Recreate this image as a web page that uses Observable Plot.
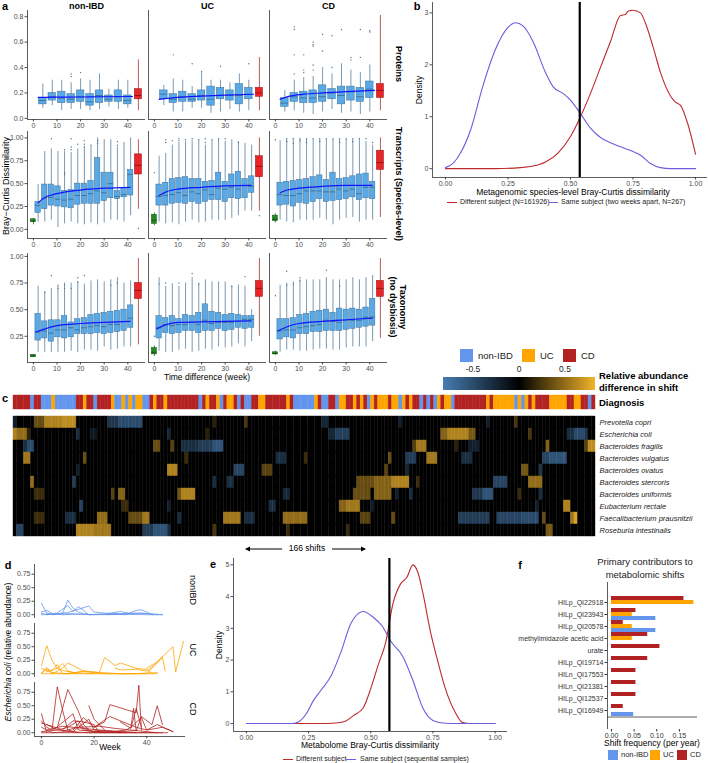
<!DOCTYPE html>
<html><head><meta charset="utf-8">
<script src="https://cdn.jsdelivr.net/npm/d3@7"></script>
<script src="https://cdn.jsdelivr.net/npm/@observablehq/plot@0.6"></script>
<style>
body{margin:0;background:#fff;font-family:"Liberation Sans",Arial,sans-serif;}
#root{position:relative;width:708px;height:763px;overflow:hidden;background:#fff;}
.t{position:absolute;white-space:nowrap;line-height:1.15;}
</style></head><body><div id="root"></div>
<script>
// ===================== DATA =====================
const DX = ["non-IBD", "UC", "CD"];
// ---- panel a: weeks of the boxes
const weeksA1 = [4, 8, 12, 16, 20, 24, 28, 32, 36, 40];
const weeksA23 = [2, 4.8, 7.6, 10.4, 13.2, 16, 18.8, 21.6, 24.4, 27.2, 30, 32.8, 35.6, 38.4, 41.2];
const weekSame = 0, weekDiff = 44.5;
// box stats: [lo, q1, median, q3, hi]
const protNonIBD = [[0.08,0.11,0.14,0.16,0.27],[0.1,0.14,0.17,0.2,0.3],[0.06,0.12,0.16,0.21,0.3],[0.07,0.12,0.15,0.19,0.28],[0.07,0.13,0.17,0.22,0.31],[0.06,0.1,0.13,0.19,0.3],[0.07,0.12,0.18,0.22,0.35],[0.09,0.13,0.15,0.18,0.23],[0.07,0.13,0.17,0.22,0.3],[0.08,0.11,0.14,0.18,0.3]];
const protUC = [[0.1,0.15,0.19,0.22,0.26],[0.05,0.12,0.15,0.19,0.31],[0.05,0.13,0.17,0.21,0.3],[0.08,0.13,0.15,0.19,0.25],[0.08,0.14,0.18,0.22,0.36],[0.04,0.1,0.15,0.25,0.3],[0.05,0.15,0.18,0.24,0.3],[0.07,0.14,0.18,0.22,0.28],[0.05,0.11,0.18,0.27,0.35],[0.06,0.15,0.19,0.24,0.3]];
const protCD = [[0.05,0.09,0.12,0.16,0.22],[0.06,0.13,0.17,0.2,0.3],[0.04,0.12,0.16,0.21,0.32],[0.03,0.12,0.16,0.22,0.33],[0.05,0.13,0.17,0.26,0.4],[0.07,0.15,0.2,0.23,0.35],[0.04,0.11,0.18,0.25,0.43],[0.05,0.14,0.21,0.25,0.38],[0.03,0.13,0.17,0.24,0.36],[0.05,0.16,0.23,0.29,0.42]];
const protDiff = [[0.06,0.15,0.18,0.23,0.46],[0.06,0.17,0.2,0.24,0.48],[0.06,0.16,0.22,0.27,0.81]];
const protOutliers = [["non-IBD",16,0.33],["non-IBD",16,0.35],["non-IBD",20,0.36],["UC",8,0.5],["UC",16,0.43],["UC",20,0.37],["UC",28,0.41],["UC",40,0.43],["CD",8,0.35],["CD",8,0.5],["CD",8,0.7],["CD",8,0.72],["CD",12,0.36],["CD",12,0.38],["CD",12,0.5],["CD",16,0.38],["CD",16,0.42],["CD",16,0.57],["CD",16,0.58],["CD",16,0.6],["CD",20,0.53],["CD",20,0.66],["CD",24,0.4],["CD",24,0.65],["CD",28,0.7],["CD",32,0.46],["CD",32,0.48],["CD",36,0.48],["CD",36,0.7],["CD",40,0.68],["CD",40,0.69]];
const protSmooth = [[[2,0.165],[10,0.167],[20,0.168],[30,0.17],[42,0.172]],[[2,0.15],[10,0.165],[20,0.175],[30,0.183],[42,0.19]],[[2,0.15],[6,0.175],[12,0.19],[20,0.2],[30,0.21],[42,0.22]]];

const txNonIBD = [[0.08,0.18,0.26,0.3,0.49],[0.08,0.22,0.34,0.49,0.85],[0.1,0.26,0.35,0.49,0.88],[0.02,0.25,0.33,0.47,0.85],[0.06,0.24,0.32,0.42,0.85],[0.08,0.23,0.33,0.43,0.84],[0.06,0.27,0.37,0.5,0.88],[0.05,0.28,0.37,0.5,0.9],[0.07,0.28,0.39,0.53,0.91],[0.05,0.28,0.42,0.78,1.0],[0.07,0.31,0.4,0.62,0.98],[0.1,0.34,0.5,0.62,0.98],[0.1,0.33,0.36,0.42,0.9],[0.08,0.35,0.38,0.45,0.95],[0.15,0.37,0.6,0.65,1.0]];
const txUC = [[0.08,0.26,0.36,0.49,0.8],[0.06,0.26,0.37,0.51,0.83],[0.07,0.28,0.38,0.55,0.92],[0.05,0.29,0.4,0.56,0.95],[0.08,0.28,0.37,0.57,0.96],[0.1,0.3,0.41,0.55,0.97],[0.07,0.28,0.39,0.55,0.97],[0.08,0.3,0.43,0.52,0.92],[0.1,0.32,0.38,0.53,0.97],[0.1,0.32,0.45,0.62,0.98],[0.1,0.3,0.44,0.52,0.96],[0.12,0.34,0.46,0.6,0.98],[0.15,0.33,0.44,0.63,0.96],[0.2,0.34,0.48,0.55,0.94],[0.2,0.4,0.47,0.58,0.92]];
const txCD = [[0.1,0.26,0.38,0.51,0.97],[0.08,0.27,0.37,0.52,0.98],[0.07,0.25,0.37,0.53,0.98],[0.1,0.29,0.39,0.54,0.98],[0.1,0.28,0.42,0.55,0.98],[0.1,0.3,0.42,0.57,0.98],[0.12,0.33,0.42,0.59,0.98],[0.1,0.3,0.41,0.54,0.98],[0.05,0.31,0.41,0.62,0.98],[0.1,0.32,0.44,0.55,0.98],[0.12,0.33,0.42,0.56,0.98],[0.13,0.35,0.44,0.58,0.98],[0.08,0.32,0.39,0.6,0.98],[0.1,0.34,0.46,0.61,0.96],[0.1,0.33,0.46,0.52,0.92]];
const txSame = [[0.05,0.08,0.09,0.11,0.12],[0.04,0.06,0.1,0.16,0.18],[0.07,0.09,0.11,0.15,0.17]];
const txDiff = [[0.22,0.6,0.7,0.82,0.98],[0.2,0.57,0.69,0.8,1.0],[0.13,0.65,0.73,0.86,1.0]];
const txOutliers = [["non-IBD",7.6,0.99],["non-IBD",13.2,0.6],["non-IBD",13.2,0.62],["non-IBD",13.2,0.87],["non-IBD",16,0.87],["non-IBD",16,0.9],["non-IBD",16,0.99],["non-IBD",18.8,0.93],["non-IBD",21.6,0.9],["non-IBD",21.6,0.93],["non-IBD",21.6,0.97],["non-IBD",24.4,0.92],["non-IBD",27.2,0.94],["non-IBD",27.2,0.97],["non-IBD",35.6,0.92],["non-IBD",35.6,0.96],["non-IBD",44.5,0.01],
["UC",0,0.62],["UC",4.8,0.95],["UC",4.8,0.98],["UC",7.6,0.97],["UC",10.4,0.97],["UC",10.4,0.99],["UC",13.2,0.98],["UC",16,0.99],["UC",18.8,0.98],["UC",21.6,0.95],["UC",21.6,0.99],["UC",24.4,0.98],["UC",27.2,0.99],["UC",30,0.99],["UC",35.6,0.95],["UC",44.5,0.15],
["CD",0,0.98],["CD",4.8,0.99],["CD",4.8,0.96],["CD",7.6,0.99],["CD",7.6,0.94],["CD",10.4,0.99],["CD",10.4,0.97],["CD",13.2,0.99],["CD",13.2,0.95],["CD",16,0.99],["CD",18.8,0.99],["CD",18.8,0.96],["CD",21.6,0.99],["CD",24.4,0.99],["CD",27.2,0.99],["CD",27.2,0.95],["CD",30,0.99],["CD",32.8,0.99],["CD",32.8,0.96],["CD",35.6,0.99],["CD",38.4,0.99],["CD",41.2,0.95]];
const txSmooth = [[[2,0.29],[5,0.35],[10,0.39],[20,0.43],[30,0.45],[41,0.46]],[[2,0.37],[5,0.41],[10,0.44],[20,0.46],[30,0.475],[41,0.48]],[[2,0.4],[5,0.43],[10,0.45],[20,0.47],[30,0.48],[41,0.48]]];

const taxNonIBD = [[0.1,0.21,0.29,0.46,0.72],[0.1,0.23,0.3,0.39,0.67],[0.1,0.2,0.28,0.4,0.7],[0.1,0.24,0.31,0.4,0.72],[0.1,0.23,0.31,0.44,0.75],[0.11,0.24,0.33,0.38,0.75],[0.1,0.27,0.31,0.41,0.76],[0.12,0.27,0.33,0.42,0.74],[0.12,0.27,0.34,0.45,0.77],[0.11,0.28,0.35,0.46,0.78],[0.15,0.27,0.34,0.47,0.76],[0.12,0.28,0.36,0.48,0.78],[0.13,0.29,0.36,0.49,0.8],[0.15,0.3,0.39,0.5,0.75],[0.15,0.33,0.42,0.54,0.77]];
const taxUC = [[0.11,0.23,0.33,0.44,0.8],[0.1,0.28,0.36,0.42,0.72],[0.1,0.27,0.35,0.44,0.73],[0.12,0.28,0.36,0.41,0.72],[0.13,0.3,0.36,0.45,0.75],[0.1,0.3,0.38,0.44,0.8],[0.11,0.28,0.36,0.47,0.75],[0.13,0.3,0.4,0.55,0.78],[0.12,0.3,0.37,0.48,0.76],[0.15,0.32,0.38,0.47,0.76],[0.14,0.3,0.38,0.45,0.76],[0.15,0.31,0.38,0.46,0.72],[0.18,0.33,0.39,0.45,0.73],[0.15,0.32,0.41,0.44,0.72],[0.2,0.33,0.41,0.44,0.5]];
const taxCD = [[0.1,0.22,0.3,0.41,0.73],[0.12,0.24,0.31,0.41,0.75],[0.12,0.23,0.31,0.42,0.76],[0.11,0.27,0.33,0.45,0.78],[0.11,0.27,0.34,0.46,0.78],[0.12,0.29,0.35,0.48,0.78],[0.13,0.29,0.36,0.49,0.78],[0.13,0.3,0.4,0.5,0.8],[0.12,0.3,0.39,0.47,0.78],[0.12,0.3,0.38,0.51,0.78],[0.14,0.31,0.4,0.5,0.78],[0.15,0.32,0.4,0.51,0.8],[0.15,0.33,0.4,0.5,0.78],[0.15,0.34,0.43,0.52,0.8],[0.2,0.35,0.43,0.6,0.82]];
const taxSame = [[0.05,0.055,0.065,0.075,0.08],[0.06,0.08,0.1,0.14,0.16],[0.07,0.08,0.09,0.1,0.11]];
const taxDiff = [[0.17,0.6,0.68,0.75,0.98],[0.25,0.62,0.7,0.77,0.98],[0.23,0.62,0.7,0.77,0.98]];
const taxOutliers = [["non-IBD",4.8,0.66],["non-IBD",7.6,0.82],["non-IBD",10.4,0.7],["non-IBD",10.4,0.73],["non-IBD",13.2,0.7],["non-IBD",13.2,0.73],["non-IBD",16,0.7],["non-IBD",18.8,0.76],["non-IBD",18.8,0.8],["non-IBD",21.6,0.82],["non-IBD",32.8,0.73],["non-IBD",35.6,0.75],
["UC",0,0.25],["UC",2,0.74],["UC",4.8,0.75],["UC",7.6,0.74],["UC",10.4,0.75],["UC",16,0.84],["UC",18.8,0.74],["UC",32.8,0.72],["UC",38.4,0.81],
["CD",0,0.63],["CD",4.8,0.73],["CD",4.8,0.86],["CD",7.6,0.74],["CD",10.4,0.77],["CD",10.4,0.8],["CD",21.6,0.87],["CD",27.2,0.72]];
const taxSmooth = [[[1,0.29],[5,0.32],[10,0.35],[20,0.37],[30,0.38],[41,0.39]],[[1,0.32],[5,0.36],[10,0.38],[20,0.385],[30,0.39],[41,0.395]],[[1,0.3],[5,0.34],[10,0.37],[20,0.39],[30,0.405],[41,0.42]]];

// ---- panel b: densities (x, density)
const bDifferent = [[0,0],[0.2,0],[0.3,0.02],[0.35,0.05],[0.4,0.13],[0.45,0.3],[0.5,0.62],[0.54,1.0],[0.58,1.45],[0.62,1.95],[0.66,2.45],[0.7,2.95],[0.72,2.97],[0.73,3.03],[0.75,3.05],[0.78,3.0],[0.8,2.8],[0.83,2.35],[0.86,1.85],[0.9,1.4],[0.92,1.28],[0.94,1.22],[0.97,0.85],[1.0,0.28]];
const bSame = [[0,0.02],[0.03,0.1],[0.06,0.3],[0.1,0.74],[0.15,1.6],[0.2,2.3],[0.25,2.72],[0.28,2.81],[0.31,2.75],[0.35,2.45],[0.4,1.85],[0.43,1.58],[0.47,1.45],[0.5,1.32],[0.54,1.06],[0.58,0.78],[0.62,0.6],[0.66,0.5],[0.7,0.42],[0.75,0.33],[0.78,0.26],[0.82,0.1],[0.86,0.02],[0.9,0],[1.0,0]];
const bThreshold = 0.537;

// ---- panel c: heatmap
const diagnosisRuns = [["CD",5],["non-IBD",1],["CD",2],["non-IBD",3],["UC",1],["non-IBD",6],["CD",2],["UC",1],["CD",2],["non-IBD",1],["CD",4],["UC",1],["non-IBD",2],["UC",1],["non-IBD",1],["UC",1],["non-IBD",1],["UC",2],["non-IBD",2],["CD",1],["UC",1],["CD",2],["UC",1],["CD",9],["non-IBD",1],["CD",1],["UC",1],["CD",2],["UC",1],["non-IBD",1],["CD",1],["UC",2],["CD",1],["non-IBD",1],["CD",1],["non-IBD",2],["CD",2],["UC",2],["CD",6],["UC",1],["CD",1],
["non-IBD",6],["UC",1],["CD",1],["non-IBD",2],["CD",2],["non-IBD",1],["UC",2],["CD",2],["UC",1],["CD",1],["UC",1],["CD",1],["non-IBD",1],["UC",1],["CD",1],["UC",3],["CD",1],["UC",2],["non-IBD",1],["UC",1],["CD",1],["UC",1],["CD",2],["non-IBD",1],["CD",1],["non-IBD",1],["CD",1],["non-IBD",1],["UC",1],["CD",1],["UC",2],["non-IBD",1],["CD",9],["UC",1],["CD",1],["UC",6],["non-IBD",1],["UC",1],["non-IBD",1],["UC",1],["CD",1],["UC",1],["CD",4],["UC",5],["CD",2],["UC",2],["CD",2],["non-IBD",1],["CD",1]];
const species = ["Prevotella copri","Escherichia coli","Bacteroides fragilis","Bacteroides vulgatus","Bacteroides ovatus","Bacteroides stercoris","Bacteroides uniformis","Eubacterium rectale","Faecalibacterium prausnitzii","Roseburia intestinalis"];
// non-zero cells: [firstShift, lastShift, relative abundance difference]
const shiftPrevotella = [[0,0,-0.2],[6,8,0.35],[9,13,0.6],[14,17,0.65],[27,29,-0.35],[30,36,-0.5],[57,57,0.15],[66,66,0.25],[88,89,-0.25],[110,110,-0.2],[135,135,-0.2],[143,143,0.25]];
const shiftEscherichia = [[0,0,0.6],[1,3,0.5],[4,4,0.15],[18,18,-0.3],[22,23,-0.15],[44,44,-0.25],[55,55,0.15],[90,91,-0.25],[92,95,-0.42],[122,123,0.45],[124,129,0.6],[130,131,0.4],[147,147,0.25],[158,159,-0.3],[160,162,-0.5],[163,163,-0.35]];
const shiftFragilis = [[3,3,-0.3],[4,5,-0.5],[40,41,0.35],[45,45,0.3],[48,52,-0.3],[53,56,-0.4],[57,59,-0.55],[114,114,0.3],[115,117,0.55],[126,126,0.15],[130,132,-0.2],[152,152,0.45],[163,163,0.3],[164,165,0.65]];
const shiftVulgatus = [[3,4,0.55],[20,20,0.35],[49,49,0.2],[75,77,-0.3],[83,83,0.2],[107,107,0.35],[112,114,-0.4],[118,120,0.55],[128,130,-0.3],[151,152,-0.45],[153,157,-0.55]];
const shiftOvatus = [[18,18,-0.2],[44,46,0.6],[63,65,-0.45],[71,73,0.3],[106,106,0.3],[112,112,-0.25],[145,146,0.4],[150,150,-0.35]];
const shiftStercoris = [[5,5,0.5],[17,17,-0.4],[57,57,-0.3],[61,62,-0.3],[98,102,0.35],[103,107,0.45],[108,112,0.6],[115,115,0.2],[137,140,-0.45],[147,150,0.5]];
const shiftUniformis = [[6,8,0.2],[28,28,0.3],[30,31,0.45],[47,47,0.4],[48,51,0.6],[77,78,-0.25],[97,101,0.35],[103,107,0.45],[109,109,-0.2],[113,113,-0.3],[131,133,-0.35],[134,136,-0.55],[144,144,0.2],[150,150,-0.3]];
const shiftRectale = [[19,19,-0.45],[31,32,0.2],[44,44,-0.2],[73,74,-0.3],[93,94,0.45],[95,98,0.55],[102,102,-0.2],[149,149,-0.2],[157,158,0.6]];
const shiftPrausnitzii = [[6,8,0.2],[15,17,-0.3],[24,26,0.5],[33,36,0.35],[37,38,0.55],[47,47,-0.3],[60,64,0.55],[66,68,-0.3],[77,83,0.5],[99,101,0.3],[108,108,0.35],[127,135,-0.4],[138,144,-0.45],[145,149,-0.5],[151,151,0.35],[159,159,0.55],[160,160,0.75]];
const shiftRoseburia = [[1,2,-0.45],[18,22,0.6],[23,27,0.55],[37,39,-0.4],[40,43,-0.55],[44,44,-0.3],[57,57,0.25],[78,78,0.2],[95,95,0.2],[152,153,0.4]];
const nShifts = 166;

// ---- panel d: E. coli relative abundance per subject, [week, value]
const ecoliNonIBD = [
 [[0,0.21],[2,0.03],[4,0],[8,0.02],[10,0.27],[12,0.12],[14,0.05],[16,0.02],[18,0],[22,0.01],[28,0.01],[32,0],[36,0.08],[38,0.09],[40,0.05],[42,0]],
 [[0,0.05],[2,0.08],[4,0.02],[6,0.03],[10,0.17],[12,0.06],[14,0.15],[16,0.08],[18,0],[24,0.01],[30,0.06],[34,0.02],[38,0.03],[46,0]],
 [[0,0.03],[2,0],[6,0.02],[10,0.04],[18,0.16],[20,0.05],[24,0.03],[30,0.02],[36,0.03],[40,0.02],[44,0]],
 [[0,0],[10,0.02],[20,0],[30,0.01],[40,0],[46,0]],
 [[2,0.02],[8,0],[14,0.01],[26,0],[34,0.02]]];
const ecoliUC = [
 [[0,0.15],[2,0.52],[4,0.25],[6,0.1],[8,0.19],[10,0.05],[14,0]],
 [[0,0],[2,0.12],[4,0],[8,0.1],[10,0.2],[12,0.15],[16,0.05],[22,0.02],[24,0.3],[28,0.15],[30,0.2],[36,0.1],[40,0.08],[42,0]],
 [[0,0.02],[2,0.08],[4,0.05],[6,0.17],[8,0],[10,0],[20,0],[30,0],[44,0]],
 [[28,0.1],[30,0.07],[36,0.08],[40,0.05],[44,0.2],[46,0.3],[47,0.05]],
 [[40,0.1],[44,0.22],[50,0.5],[51,0.03],[54,0.6]],
 [[0,0],[10,0],[16,0.05],[20,0.03],[30,0],[40,0],[46,0.32]],
 [[2,0.04],[6,0.1],[8,0.06],[12,0.02],[20,0]],
 [[0,0.1],[4,0.02],[10,0],[16,0.04],[24,0],[34,0],[44,0.02]]];
const ecoliCD = [
 [[0,0.22],[2,0.1],[4,0.05],[6,0.85],[8,0.42],[10,0.05],[14,0]],
 [[6,0.1],[10,0.8],[14,0.4],[16,0.15],[18,0.05]],
 [[0,0.35],[2,0]],
 [[0,0.18],[4,0.12],[8,0.05],[12,0.22],[16,0.2],[20,0.15],[22,0]],
 [[12,0.05],[16,0.28],[20,0.1],[24,0.2],[26,0.52],[36,0.37],[37,0.88],[38,0.05]],
 [[20,0.1],[26,0.3],[36,0.1],[40,0.05],[44,0.15],[50,0.02]],
 [[34,0.1],[35,0.45],[36,0.03],[38,0.3],[42,0.15],[44,0.5],[46,0.15]],
 [[2,0.15],[6,0.05],[10,0.1],[14,0.22],[16,0.08],[20,0.02],[26,0.03],[32,0]],
 [[0,0.1],[4,0],[10,0.02],[18,0],[26,0],[34,0],[40,0],[48,0]],
 [[2,0.05],[8,0.12],[12,0.1],[16,0.08],[22,0.05],[30,0.02],[36,0.04]],
 [[0,0.02],[6,0.05],[12,0.02],[18,0.25],[20,0.05],[28,0.02],[36,0]],
 [[4,0.03],[12,0.35],[14,0.05],[20,0.02],[30,0]],
 [[14,0.15],[16,0.05],[24,0],[32,0.05],[34,0.1],[38,0.28],[40,0.05],[46,0.1],[50,0.02]],
 [[8,0.03],[14,0.1],[22,0.12],[28,0.08],[34,0.05],[40,0.02],[44,0]],
 [[0,0],[20,0],[46,0]],
 [[18,0.5],[20,0.25],[24,0.05]],
 [[30,0.2],[34,0.08],[36,0.45],[38,0.1]]];

// ---- panel e: metabolome densities
const eDifferent = [[0,0],[0.3,0],[0.36,0.02],[0.4,0.08],[0.43,0.25],[0.47,0.5],[0.5,1.1],[0.53,1.85],[0.56,2.55],[0.59,3.8],[0.62,4.4],[0.645,4.6],[0.67,5.0],[0.69,4.75],[0.71,4.1],[0.74,2.9],[0.765,2.1],[0.8,1.1],[0.84,0.35],[0.87,0.03],[0.9,0],[1,0]];
const eSame = [[0,0],[0.18,0],[0.21,0.06],[0.24,0.3],[0.27,0.73],[0.3,1.05],[0.34,1.5],[0.38,2.25],[0.42,3.15],[0.47,3.53],[0.51,3.35],[0.545,3.08],[0.58,2.6],[0.63,2.1],[0.67,1.35],[0.71,0.48],[0.75,0.1],[0.8,0.01],[0.85,0],[1,0]];
const eThreshold = 0.575;

// ---- panel f: shift frequency per year
const metabolites = ["HILp_QI22918","HILp_QI23943","HILp_QI20578","methylimidazole acetic acid","urate","HILp_QI19714","HILn_QI17553","HILn_QI21381","HILp_QI12537","HILp_QI16949"];
const freqCD = [0.16,0.054,0.026,0.08,0.107,0.08,0.054,0.054,0.054,0.026];
const freqUC = [0.182,0.046,0.046,0.046,0,0,0,0,0,0];
const freqNonIBD = [0,0.098,0.098,0,0,0,0,0,0,0.049];

// ===================== STYLE =====================
const FONT = '"Liberation Sans", Arial, sans-serif';
const COL = {"non-IBD": "#6495ED", "UC": "#FFA500", "CD": "#B22222"};
const HEAT = ["#467DB2", "#000000", "#F2B42A"];
const base = {background: "transparent", fontFamily: FONT, fontSize: "7px", color: "#4d4d4d", overflow: "visible"};
const root = document.getElementById("root");
function put(node, x, y) { node.style.position = "absolute"; node.style.left = x + "px"; node.style.top = y + "px"; root.appendChild(node); return node; }
function txt(s, x, y, o = {}) {
  const d = document.createElement("div"); d.className = "t";
  if (o.html) d.innerHTML = s; else d.textContent = s;
  d.style.left = x + "px"; d.style.top = y + "px";
  d.style.fontSize = (o.size || 8.5) + "px";
  if (o.bold) d.style.fontWeight = "bold";
  if (o.italic) d.style.fontStyle = "italic";
  if (o.align) d.style.textAlign = o.align;
  d.style.color = o.color || "#000";
  const ax = o.anchor === "start" ? "0" : o.anchor === "end" ? "-100%" : "-50%";
  d.style.transform = `translate(${ax},-50%)` + (o.rot ? ` rotate(${o.rot}deg)` : "");
  root.appendChild(d); return d;
}
function box(x, y, w, h, bg, extra = "") { const d = document.createElement("div"); d.style.cssText = `position:absolute;left:${x}px;top:${y}px;width:${w}px;height:${h}px;background:${bg};${extra}`; root.appendChild(d); return d; }

// ===================== PANEL A =====================
function boxTable(weeks, lists) { const out = []; DX.forEach((dx, i) => lists[i].forEach((b, j) => out.push({dx, wk: weeks[j], lo: b[0], q1: b[1], med: b[2], q3: b[3], hi: b[4]}))); return out; }
function oneTable(wk, lists) { return DX.map((dx, i) => ({dx, wk, lo: lists[i][0], q1: lists[i][1], med: lists[i][2], q3: lists[i][3], hi: lists[i][4]})); }
function ptTable(list) { return list.map(([dx, wk, v]) => ({dx, wk, v})); }
function smTable(lists) { const out = []; DX.forEach((dx, i) => lists[i].forEach(([wk, v]) => out.push({dx, wk, v}))); return out; }
function boxMarks(data, w, fill, stroke, whisk) {
  return [
    Plot.ruleX(data, {fx: "dx", x: "wk", y1: "lo", y2: "hi", stroke: whisk, strokeWidth: 0.8}),
    Plot.rect(data, {fx: "dx", x1: d => d.wk - w / 2, x2: d => d.wk + w / 2, y1: "q1", y2: "q3", fill, stroke, strokeWidth: 0.5}),
    Plot.ruleY(data, {fx: "dx", y: "med", x1: d => d.wk - w / 2, x2: d => d.wk + w / 2, stroke, strokeWidth: 0.9})
  ];
}
function rowChart(o) {
  const marks = [];
  if (o.header) marks.push(Plot.axisFx({anchor: "top", tickSize: 0, tickPadding: 2, fontSize: 9, fontWeight: "bold", fill: "#000", label: null}));
  marks.push(
    Plot.axisX({ticks: [0, 10, 20, 30, 40], tickSize: 2.5, tickPadding: 1.5, label: null}),
    Plot.axisY({ticks: o.ticks, tickFormat: d3.format(o.fmt), tickSize: 2.5, tickPadding: 1.5, label: null}),
    Plot.ruleX([-2.5], {stroke: "#333", strokeWidth: 0.8}),
    Plot.ruleY([o.domain[0]], {stroke: "#333", strokeWidth: 0.8})
  );
  if (o.same) marks.push(...boxMarks(oneTable(weekSame, o.same), 2.1, "#228B22", "#0f4f0f", "#1d6b1d"));
  marks.push(...boxMarks(boxTable(o.weeks, o.lists), o.w, "#59A9E6", "#3a6f98", "#5a7d9c"));
  marks.push(...boxMarks(oneTable(weekDiff, o.diff), 3, "#E8262A", "#8b1010", "#a83434"));
  marks.push(Plot.dot(ptTable(o.outs), {fx: "dx", x: "wk", y: "v", r: 0.7, fill: "#4f7497", stroke: null}));
  marks.push(Plot.line(smTable(o.smooth), {fx: "dx", x: "wk", y: "v", stroke: "#1414ff", strokeWidth: 1.2, curve: "monotone-x"}));
  const chart = Plot.plot({
    width: 387, height: o.mt + o.h + o.mb, marginTop: o.mt, marginBottom: o.mb, marginLeft: 27, marginRight: 0,
    style: base,
    fx: o.header ? {domain: DX, paddingInner: 0.025, paddingOuter: 0, label: null} : {domain: DX, paddingInner: 0.025, paddingOuter: 0, label: null, axis: null},
    x: {domain: [-2.5, 47.5]}, y: {domain: o.domain},
    marks
  });
  put(chart, 0, o.top);
}
rowChart({top: 0, mt: 10, h: 109, mb: 12, header: true, domain: [-0.009, 0.849], ticks: [0, 0.2, 0.4, 0.6, 0.8], fmt: ".1f",
  weeks: weeksA1, w: 3.2, lists: [protNonIBD, protUC, protCD], diff: protDiff, outs: protOutliers, smooth: protSmooth});
rowChart({top: 129, mt: 2, h: 107, mb: 12, domain: [-0.1, 1.07], ticks: [0, 0.25, 0.5, 0.75, 1], fmt: ".2f",
  weeks: weeksA23, w: 2.3, lists: [txNonIBD, txUC, txCD], same: txSame, diff: txDiff, outs: txOutliers, smooth: txSmooth});
rowChart({top: 251, mt: 2, h: 109, mb: 12, domain: [0.004, 1.027], ticks: [0.25, 0.5, 0.75, 1], fmt: ".2f",
  weeks: weeksA23, w: 2.3, lists: [taxNonIBD, taxUC, taxCD], same: taxSame, diff: taxDiff, outs: taxOutliers, smooth: taxSmooth});
txt("a", 5, 6, {bold: true, size: 11});
txt("Bray\u2212Curtis Dissimilarity", 6, 186, {rot: -90, size: 9});
txt("Proteins", 399, 64, {rot: 90, bold: true, size: 9});
txt("Transcripts (Species-level)", 399, 184, {rot: 90, bold: true, size: 9});
txt("Taxonomy<br>(no dysbiosis)", 398, 307, {rot: 90, bold: true, size: 9, html: true, align: "center"});
txt("Time difference (week)", 207, 378, {size: 8.5});

// ===================== PANEL B / E (densities) =====================
function densityChart(o) {
  const tab = (arr, g) => arr.map(([x, y]) => ({x, y, g}));
  const data = [...tab(o.diff, "Different"), ...tab(o.same, "Same")];
  const chart = Plot.plot({
    width: o.width, height: o.mt + o.h + o.mb, marginLeft: o.ml, marginRight: o.mr, marginTop: o.mt, marginBottom: o.mb,
    style: base,
    x: {domain: o.xdom}, y: {domain: o.ydom},
    color: {domain: ["Different", "Same"], range: ["#C0282B", "#6B5CE0"]},
    marks: [
      Plot.axisX({ticks: [0, 0.25, 0.5, 0.75, 1], tickFormat: d3.format(".2f"), tickSize: 2.5, tickPadding: 1.5, label: null}),
      Plot.axisY({ticks: o.yticks, tickFormat: d3.format("d"), tickSize: 2.5, tickPadding: 1.5, label: null}),
      Plot.ruleX([o.xdom[0]], {stroke: "#333", strokeWidth: 0.8}),
      Plot.ruleY([o.ydom[0]], {stroke: "#333", strokeWidth: 0.8}),
      Plot.line(data, {x: "x", y: "y", z: "g", stroke: "g", strokeWidth: 1.1, curve: "monotone-x"}),
      Plot.ruleX([o.thr], {stroke: "#000", strokeWidth: 2.2})
    ]
  });
  put(chart, o.left, o.top);
}
densityChart({left: 400, top: 0, width: 308, ml: 32, mr: 1, mt: 2, h: 175, mb: 12, xdom: [-0.052, 1.048], ydom: [-0.17, 3.2], yticks: [0, 1, 2, 3], diff: bDifferent, same: bSame, thr: bThreshold});
txt("b", 417, 6, {bold: true, size: 11});
txt("Density", 420, 90, {rot: -90, size: 8.5});
txt("Metagenomic species-level Bray-Curtis dissimilarity", 573, 193, {size: 8.5});
box(447, 201.5, 10, 1.2, "#C0282B");
txt("Different subject (N=161926)", 460, 202, {size: 7, anchor: "start", color: "#222"});
box(549, 201.5, 9, 1.2, "#6B5CE0");
txt("Same subject (two weeks apart, N=267)", 561, 202, {size: 7, anchor: "start", color: "#222"});

densityChart({left: 208, top: 552, width: 301, ml: 25, mr: 2, mt: 6, h: 173, mb: 12, xdom: [-0.052, 1.05], ydom: [-0.25, 5.2], yticks: [0, 1, 2, 3, 4, 5], diff: eDifferent, same: eSame, thr: eThreshold});
txt("e", 213, 564, {bold: true, size: 11});
txt("Density", 220, 645, {rot: -90, size: 8.5});
txt("Metabolome Bray-Curtis dissimilarity", 370, 746, {size: 8.5});
box(283, 758.5, 10, 1.2, "#C0282B");
txt("Different subject", 296, 759, {size: 7, anchor: "start", color: "#222"});
box(346, 758.5, 10, 1.2, "#6B5CE0");
txt("Same subject (sequential samples)", 360, 759, {size: 7, anchor: "start", color: "#222"});

// ===================== PANEL C =====================
const diagTable = [];
diagnosisRuns.forEach(([dx, n]) => { for (let k = 0; k < n; k++) diagTable.push({col: diagTable.length, dx}); });
const shiftRows = [shiftPrevotella, shiftEscherichia, shiftFragilis, shiftVulgatus, shiftOvatus, shiftStercoris, shiftUniformis, shiftRectale, shiftPrausnitzii, shiftRoseburia];
const heatTable = [];
species.forEach((sp, i) => {
  for (let c = 0; c < nShifts; c++) {
    let v = 0;
    for (const [a, b, val] of shiftRows[i]) if (c >= a && c <= b) v = val;
    heatTable.push({sp, col: c, v});
  }
});
const cols = d3.range(nShifts);
put(Plot.plot({
  width: 582, height: 14, marginLeft: 0, marginRight: 0, marginTop: 0, marginBottom: 0, style: base,
  x: {domain: cols, padding: 0, axis: null}, y: {domain: ["Diagnosis"], padding: 0, axis: null},
  color: {domain: DX, range: DX.map(d => COL[d])},
  marks: [Plot.cell(diagTable, {x: "col", y: () => "Diagnosis", fill: "dx", stroke: "dx", strokeWidth: 0.4})]
}), 13, 395);
put(Plot.plot({
  width: 695, height: 126, marginLeft: 0, marginRight: 113, marginTop: 0, marginBottom: 0,
  style: {...base, fontSize: "7.5px", fontStyle: "italic", color: "#222"},
  x: {domain: cols, padding: 0, axis: null}, y: {domain: species, padding: 0},
  color: {type: "linear", domain: [-0.83, 0, 0.83], range: HEAT, interpolate: "rgb", clamp: true},
  marks: [
    Plot.cell(heatTable, {x: "col", y: "sp", fill: "v", stroke: "v", strokeWidth: 0.4}),
    Plot.axisY({anchor: "right", tickSize: 0, tickPadding: 4, label: null})
  ]
}), 13, 413);
txt("c", 5, 398, {bold: true, size: 11});
txt("Diagnosis", 599, 403, {bold: true, size: 9.5, anchor: "start"});
txt("Relative abundance", 599, 376, {bold: true, size: 9.5, anchor: "start"});
txt("difference in shift", 599, 388, {bold: true, size: 9.5, anchor: "start"});
box(443, 377, 152, 13, `linear-gradient(to right, ${HEAT[0]} 0%, ${HEAT[1]} 50%, ${HEAT[2]} 100%)`);
txt("-0.5", 473, 370, {size: 8.5, color: "#222"});
txt("0", 519, 370, {size: 8.5, color: "#222"});
txt("0.5", 565, 370, {size: 8.5, color: "#222"});
box(460, 349, 13, 13, COL["non-IBD"]); txt("non-IBD", 478, 356, {size: 9.5, anchor: "start", color: "#222"});
box(522, 349, 13, 13, COL.UC); txt("UC", 540, 356, {size: 9.5, anchor: "start", color: "#222"});
box(563, 349, 13, 13, COL.CD); txt("CD", 581, 356, {size: 9.5, anchor: "start", color: "#222"});
// arrows for "166 shifts"
(function () {
  const ns = "http://www.w3.org/2000/svg";
  const svg = document.createElementNS(ns, "svg");
  svg.setAttribute("width", 140); svg.setAttribute("height", 10);
  const mk = (x1, x2, tip, dir) => {
    const l = document.createElementNS(ns, "line");
    l.setAttribute("x1", x1); l.setAttribute("x2", x2); l.setAttribute("y1", 5); l.setAttribute("y2", 5);
    l.setAttribute("stroke", "#000"); l.setAttribute("stroke-width", 1); svg.appendChild(l);
    const p = document.createElementNS(ns, "path");
    p.setAttribute("d", `M${tip},5 L${tip - dir * 5},2.5 L${tip - dir * 5},7.5 Z`); p.setAttribute("fill", "#000"); svg.appendChild(p);
  };
  mk(2, 38, 1, -1); mk(88, 121, 122, 1);
  put(svg, 244, 544);
})();
txt(nShifts + " shifts", 307, 549, {size: 8.5});

// ===================== PANEL D =====================
const dTable = [];
[["nonIBD", ecoliNonIBD], ["UC", ecoliUC], ["CD", ecoliCD]].forEach(([g, series]) => series.forEach((s, i) => s.forEach(([wk, v]) => dTable.push({g, id: g + i, wk, v}))));
put(Plot.plot({
  width: 185, height: 200, marginLeft: 34, marginRight: 0, marginTop: 0, marginBottom: 26, style: base,
  fy: {domain: ["nonIBD", "UC", "CD"], paddingInner: 0.08, paddingOuter: 0, axis: null, label: null},
  x: {domain: [-2.66, 54.75]}, y: {domain: [-0.07, 0.93]},
  color: {domain: ["nonIBD", "UC", "CD"], range: [COL["non-IBD"], COL.UC, COL.CD]},
  marks: [
    Plot.axisY({ticks: [0, 0.25, 0.5, 0.75], tickFormat: d3.format(".2f"), tickSize: 2.5, tickPadding: 1.5, label: null}),
    Plot.axisX({ticks: [0, 20, 40], tickSize: 2.5, tickPadding: 1.5, label: null}),
    Plot.ruleX([-2.66], {stroke: "#333", strokeWidth: 0.8}),
    Plot.ruleY([{g: "CD"}], {fy: "g", y: () => -0.07, stroke: "#333", strokeWidth: 0.8}),
    Plot.line(dTable, {fy: "g", x: "wk", y: "v", z: "id", stroke: "g", strokeWidth: 0.8})
  ]
}), 0, 563);
txt("d", 8, 565, {bold: true, size: 11});
txt("nonIBD", 193, 590, {rot: 90, size: 9});
txt("UC", 193, 650, {rot: 90, size: 9});
txt("CD", 193, 709, {rot: 90, size: 9});
txt("<i>Escherichia coli</i> (relative abundance)", 9, 652, {rot: -90, size: 8.5, html: true});
txt("Week", 110, 748, {size: 8.5});

// ===================== PANEL F =====================
const fKeys = []; metabolites.forEach(m => ["CD", "UC", "non-IBD"].forEach(dx => fKeys.push(m + "|" + dx)));
const fTable = [];
metabolites.forEach((m, i) => { [["CD", freqCD], ["UC", freqUC], ["non-IBD", freqNonIBD]].forEach(([dx, arr]) => { if (arr[i] > 0) fTable.push({key: m + "|" + dx, dx, v: arr[i]}); }); });
put(Plot.plot({
  width: 228, height: 160, marginLeft: 127, marginRight: 11, marginTop: 2, marginBottom: 11, style: {...base, color: "#333"},
  x: {domain: [-0.0088, 0.19]}, y: {domain: fKeys, paddingInner: 0.1, paddingOuter: 0.05},
  color: {domain: DX, range: DX.map(d => COL[d])},
  marks: [
    Plot.barX(fTable, {x: "v", y: "key", fill: "dx"}),
    Plot.axisX({ticks: [0, 0.05, 0.1, 0.15], tickFormat: d3.format(".2f"), tickSize: 2.5, tickPadding: 1.5, label: null}),
    Plot.axisY({ticks: metabolites.map(m => m + "|UC"), tickFormat: d => d.split("|")[0], tickSize: 2.5, tickPadding: 1.5, label: null}),
    Plot.ruleX([-0.0088], {stroke: "#333", strokeWidth: 0.8}),
    Plot.ruleY([fKeys[fKeys.length - 1]], {stroke: "#333", strokeWidth: 0.8, dy: 2.5})
  ]
}), 480, 580);
txt("f", 520, 565, {bold: true, size: 11});
txt("Primary contributors to", 645, 562, {size: 9.5, color: "#222"});
txt("metabolomic shifts", 645, 575, {size: 9.5, color: "#222"});
txt("Shift frequency (per year)", 652, 744, {size: 8.5});
box(608, 750, 10, 10, COL["non-IBD"]); txt("non-IBD", 621, 755, {size: 7.5, anchor: "start", color: "#222"});
box(650, 750, 10, 10, COL.UC); txt("UC", 663, 755, {size: 7.5, anchor: "start", color: "#222"});
box(677, 750, 10, 10, COL.CD); txt("CD", 690, 755, {size: 7.5, anchor: "start", color: "#222"});
</script></body></html>
